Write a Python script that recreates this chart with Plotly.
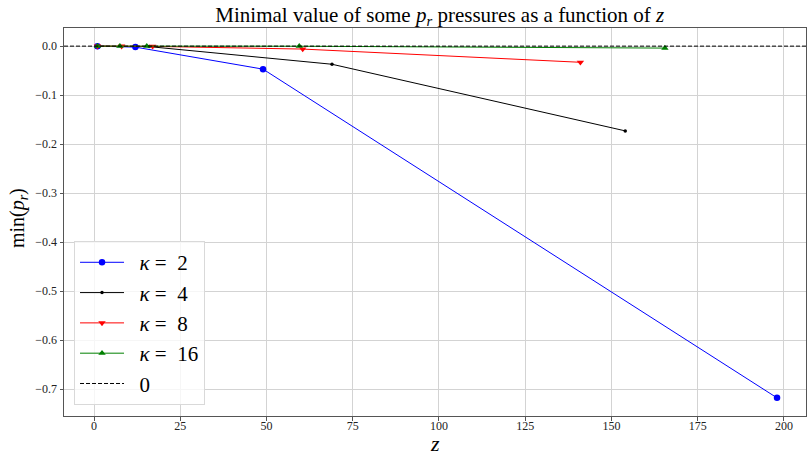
import plotly.graph_objects as go

# Minimal radial pressure per kappa, sampled at a few z values
z_k2 = [1, 12, 49, 198]
p_k2 = [0.0, -0.002, -0.047, -0.718]

z_k4 = [1, 16, 69, 154]
p_k4 = [0.0, -0.001, -0.037, -0.173]

z_k8 = [1, 8, 17, 60.5, 141]
p_k8 = [0.0, 0.0, -0.0005, -0.006, -0.033]

z_k16 = [1, 7.5, 15.3, 59.5, 165.5]
p_k16 = [0.0, 0.0, 0.0, -0.0002, -0.004]

x_ticks = [0, 25, 50, 75, 100, 125, 150, 175, 200]
y_ticks = [0.0, -0.1, -0.2, -0.3, -0.4, -0.5, -0.6, -0.7]

SERIF = "Liberation Serif"
X_RANGE = [-8.7, 206.4]
PAD = "\u00a0\u00a0"

fig = go.Figure()

series = [
    (z_k2, p_k2, "2", "blue", "circle", 6.5),
    (z_k4, p_k4, "4", "black", "circle", 3.5),
    (z_k8, p_k8, "8", "red", "triangle-down", 6.5),
    (z_k16, p_k16, "16", "green", "triangle-up", 6.5),
]
for zs, ps, k, color, sym, size in series:
    fig.add_trace(go.Scatter(
        x=zs, y=ps, mode="lines+markers",
        name=f"{PAD}<i>κ</i> =  {k}",
        line=dict(color=color, width=1),
        marker=dict(color=color, symbol=sym, size=size, line=dict(width=0)),
    ))

# Reference line at zero pressure
fig.add_trace(go.Scatter(
    x=X_RANGE, y=[0, 0], mode="lines", name=f"{PAD}0",
    line=dict(color="black", width=1, dash="4px,2px"),
))

fig.update_layout(
    width=807, height=457,
    margin=dict(l=64, r=1, t=28, b=41),
    paper_bgcolor="white", plot_bgcolor="white",
    font=dict(family=SERIF, size=12, color="#222"),
    title=dict(
        text="Minimal value of some <i>p<sub>r</sub></i> pressures as a function of <i>z</i>",
        x=0.545, xanchor="center",
        y=0.985, yanchor="top",
        font=dict(family=SERIF, size=21, color="black"),
    ),
    showlegend=True,
    legend=dict(
        x=0.0135, y=0.028, xanchor="left", yanchor="bottom",
        bgcolor="rgba(255,255,255,0.8)", bordercolor="#d9d9d9", borderwidth=1,
        font=dict(family=SERIF, size=21, color="black"),
        tracegroupgap=0, itemwidth=44,
    ),
    annotations=[
        dict(text="<i>z</i>", xref="paper", yref="paper", x=0.5, y=-0.1057,
             xanchor="center", yanchor="bottom", showarrow=False, borderpad=0,
             font=dict(family=SERIF, size=22, color="black")),
        dict(text="min(<i>p<sub>r</sub></i>)", xref="paper", yref="paper",
             x=-0.062, y=0.51, xanchor="center", yanchor="middle", textangle=-90,
             showarrow=False, font=dict(family=SERIF, size=20, color="black")),
    ],
)

fig.update_xaxes(
    range=X_RANGE, tickvals=x_ticks, automargin=False,
    ticks="outside", ticklen=3.5, tickcolor="#555", ticklabelstandoff=-5,
    showgrid=True, gridcolor="#d3d3d3", gridwidth=1,
    showline=True, linecolor="#555", linewidth=1, mirror=True,
    zeroline=False,
    tickfont=dict(family=SERIF, size=12, color="#222"),
)
fig.update_yaxes(
    range=[-0.755, 0.037], tickvals=y_ticks, tickformat=".1f", automargin=False,
    ticks="outside", ticklen=3.5, tickcolor="#555",
    showgrid=True, gridcolor="#d3d3d3", gridwidth=1,
    showline=True, linecolor="#555", linewidth=1, mirror=True,
    zeroline=False,
    tickfont=dict(family=SERIF, size=12, color="#222"),
)

fig.write_html("out.html")
